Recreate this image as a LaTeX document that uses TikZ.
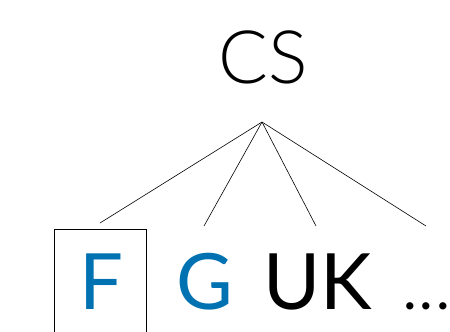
\documentclass[tikz,border=0pt]{standalone}
\usepackage{fontspec}
\setmainfont{Lato}
\newfontfamily\thinfont{Lato Light}
\definecolor{fblue}{RGB}{0,114,178}
\begin{document}
\begin{tikzpicture}[x=1bp,y=-1bp,
  lbl/.style={anchor=base,inner sep=0pt,text depth=0pt,font=\fontsize{78}{80}\selectfont},
  edge/.style={draw=black,line width=0.6pt}]
\clip (0,0) rectangle (450,331);
\fill[white] (0,0) rectangle (450,331);
% root label
\node[anchor=base,inner sep=0pt,text depth=0pt,font=\thinfont\fontsize{74}{76}\selectfont] (cs) at (263,83) {CS};
% leaves
\node[lbl,text=fblue] (f) at (101,309) {F};
\node[lbl,text=fblue] (g) at (205,309) {G};
\node[lbl] (uk) at (318,309) {UK};
\node[lbl,anchor=base west,font=\fontsize{58}{60}\selectfont] (dots) at (403,309) {.\hspace{3bp}.\hspace{3bp}.};
% highlight box around the first leaf
\draw[line width=0.8pt] (54,229) rectangle (146,345);
% branches
\coordinate (apex) at (262,122);
\coordinate (ef) at (100,223);
\coordinate (eg) at (204,226);
\coordinate (euk) at (316,226);
\coordinate (edots) at (426,226);
\foreach \e in {ef,eg,euk,edots} \draw[edge] (apex) -- (\e);
\end{tikzpicture}
\end{document}
